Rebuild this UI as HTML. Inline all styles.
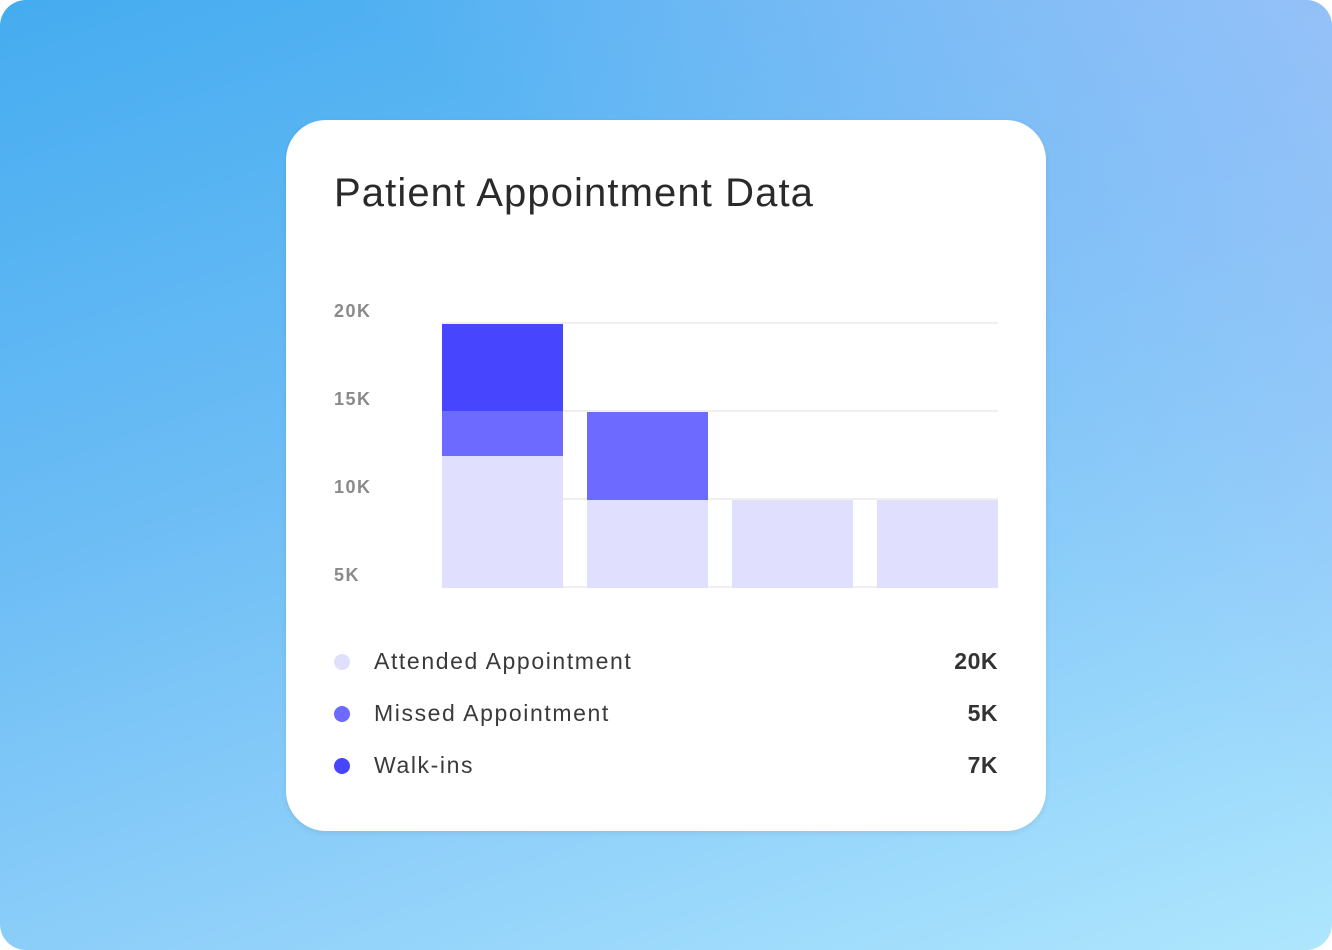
<!DOCTYPE html>
<html><head><style>
body{margin:0;width:1332px;height:950px;background:#fff;font-family:"Liberation Sans",sans-serif;overflow:hidden}
.bg{position:absolute;left:0;top:0;width:1332px;height:950px;border-radius:26px;background:linear-gradient(160deg,#45acf0 0%,#6dbdf5 40%,#8fd0fa 70%,#aee6fd 100%);overflow:hidden}
.bg:after{content:"";position:absolute;inset:0;background:linear-gradient(220deg,rgba(165,195,250,0.75) 0%,rgba(170,195,250,0) 40%)}
.card{position:absolute;left:286px;top:120px;width:760px;height:711px;background:#fff;border-radius:40px;box-shadow:0 2px 6px rgba(0,0,0,0.08);z-index:2}
.t{position:absolute;left:48px;top:51px;font-size:40px;color:#2a2a2a;letter-spacing:1.1px}
.yl{position:absolute;left:48px;font-size:18px;font-weight:bold;color:#8a8a8a;letter-spacing:1.5px}
.g{position:absolute;left:156px;width:556px;height:2px;background:#efeff2}
.b{position:absolute}
.leg{position:absolute;left:48px;width:664px;font-size:23px;color:#3a3a3a;letter-spacing:1.6px}
.leg .d{position:absolute;left:0;top:6px;width:16px;height:16px;border-radius:50%}
.leg .n{position:absolute;left:40px}
.leg .v{position:absolute;right:0;font-weight:bold;color:#333;letter-spacing:0.5px}
</style></head><body>
<div class="bg"></div>
<div class="card">
<div class="t">Patient Appointment Data</div>
<div class="yl" style="top:181px">20K</div>
<div class="yl" style="top:269px">15K</div>
<div class="yl" style="top:357px">10K</div>
<div class="yl" style="top:445px">5K</div>
<div class="g" style="top:202px"></div>
<div class="g" style="top:290px"></div>
<div class="g" style="top:378px"></div>
<div class="g" style="top:466px"></div>
<div class="b" style="left:156px;top:204px;width:121px;height:87px;background:#4845ff"></div>
<div class="b" style="left:156px;top:291px;width:121px;height:45px;background:#6c6aff"></div>
<div class="b" style="left:156px;top:336px;width:121px;height:132px;background:#e0dffd"></div>
<div class="b" style="left:301px;top:292px;width:121px;height:88px;background:#6c6aff"></div>
<div class="b" style="left:301px;top:380px;width:121px;height:88px;background:#e0dffd"></div>
<div class="b" style="left:446px;top:380px;width:121px;height:88px;background:#e0dffd"></div>
<div class="b" style="left:591px;top:380px;width:121px;height:88px;background:#e0dffd"></div>
<div class="leg" style="top:528px"><span class="d" style="background:#e0dffd"></span><span class="n">Attended Appointment</span><span class="v">20K</span></div>
<div class="leg" style="top:580px"><span class="d" style="background:#6c6aff"></span><span class="n">Missed Appointment</span><span class="v">5K</span></div>
<div class="leg" style="top:632px"><span class="d" style="background:#4845ff"></span><span class="n">Walk-ins</span><span class="v">7K</span></div>
</div>
</body></html>
